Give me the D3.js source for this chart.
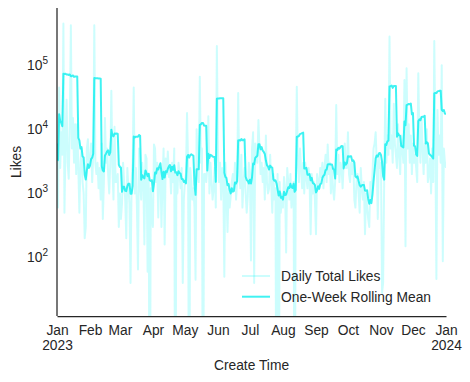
<!DOCTYPE html>
<html>
<head>
<meta charset="utf-8">
<script src="https://cdn.jsdelivr.net/npm/d3@7"></script>
<style>
  body { margin: 0; background: #fff; }
  text { font-family: "Liberation Sans", Arial, sans-serif; fill: #262626; }
</style>
</head>
<body>
<script>
// daily totals, 2023-01-01 .. 2024-01-01 (0 = no likes that day)
const startDay = Date.UTC(2023, 0, 1);
const dailyLikes = [
  6000, 600, 45000, 2500, 9000, 4000, 450000, 500, 6000, 29000, 3000, 1700, 12000, 420000,
  5000, 15000, 3000, 12000, 2000, 12000, 2500, 500, 3000, 5000, 1500, 1000, 200, 300,
  5000, 7000, 2500, 3000, 6000, 1500, 4000, 420000, 3000, 2000, 3000, 1200, 2500, 800,
  6000, 400, 1500, 15000, 3000, 5000, 2000, 1000, 3000, 40000, 2500, 800, 11000, 1500,
  1500, 2000, 300, 1000, 400, 700, 3000, 1500, 800, 200, 2500, 1200, 700, 40,
  1500, 3000, 45000, 1000, 2500, 600, 65, 5000, 1500, 800, 3000, 1500, 160, 4000,
  3500, 60, 2000, 0, 1200, 500, 300, 5800, 5000, 1500, 3000, 420, 2500, 2500,
  300, 1500, 5000, 160, 3500, 2000, 4500, 1800, 2500, 1000, 3000, 1500, 5000, 0,
  2000, 1000, 3000, 2000, 1200, 2500, 40, 800, 1500, 2000, 18000, 3000, 0, 2500,
  1500, 800, 1200, 600, 45, 10000, 2500, 1500, 66000, 3000, 5000, 0, 2000, 2000,
  1500, 2500, 16000, 1000, 3000, 1500, 800, 1200, 2500, 600, 200000, 5000, 1500, 3000,
  800, 2500, 1800, 50, 3000, 1000, 250, 1200, 600, 900, 1500, 2000, 1200, 3000,
  800, 1500, 37000, 2000, 1200, 4000, 600, 1500, 2500, 1000, 500, 900, 3000, 2000,
  90, 5000, 9000, 40, 6000, 4000, 3000, 14000, 5000, 2000, 3000, 1500, 2500, 800,
  8000, 1500, 1000, 1200, 4000, 1500, 500, 2000, 800, 1200, 0, 2000, 0, 1500,
  500, 1000, 600, 1800, 1200, 120, 2500, 1500, 800, 2000, 600, 1000, 1500, 0,
  2000, 46000, 3000, 1500, 5000, 2500, 1200, 3000, 1000, 3000, 1800, 1200, 2500, 1500,
  230, 2000, 1000, 1500, 800, 230, 2000, 1500, 1200, 2500, 1800, 3000, 1200, 2500,
  4000, 1500, 5800, 2000, 3000, 1000, 2500, 1200, 800, 1500, 24000, 2000, 4000, 1500,
  3000, 2500, 1200, 3000, 6000, 2500, 2500, 9000, 2000, 1500, 3000, 2000, 3000, 800,
  600, 1500, 2000, 1000, 500, 2500, 1200, 800, 1500, 230, 1000, 600, 400, 300,
  1500, 900, 2000, 5000, 6000, 9000, 3000, 400, 4000, 2500, 3000, 28, 40, 1500,
  30000, 3000, 8000, 4000, 280000, 5000, 8000, 3000, 25000, 6000, 4000, 2500, 12000, 4000,
  2000, 8000, 5000, 3000, 59000, 150, 90000, 5000, 12000, 3000, 8000, 2000, 6000, 3000,
  4000, 2500, 1500, 75000, 8000, 3000, 15000, 5000, 2000, 6000, 3000, 10000, 1500, 2000,
  3500, 1000, 5000, 1500, 240000, 6000, 46, 20000, 4000, 8000, 3000, 100000, 87, 5000,
  3000, 2500
];
const monthLabels = ['Jan', 'Feb', 'Mar', 'Apr', 'May', 'Jun', 'Jul', 'Aug', 'Sep', 'Oct', 'Nov', 'Dec'];
const yPowers = [2, 3, 4, 5];
const seriesNames = ['Daily Total Likes', 'One-Week Rolling Mean'];
const windowDays = 7;

const width = 470, height = 382;
const plot = {left: 57, right: 446, top: 8, bottom: 316};
const fontSize = 13.8;
const lightColor = 'rgba(0,245,245,0.2)';
const meanColor = 'rgba(0,238,238,0.75)';

const days = dailyLikes.map((v, i) => d3.utcDay.offset(new Date(startDay), i));

// trailing one-week mean (shorter window at the start)
const rolling = dailyLikes.map((v, i) => d3.mean(dailyLikes.slice(Math.max(0, i - windowDays + 1), i + 1)));

const svg = d3.select('body').append('svg')
  .attr('width', width).attr('height', height);

const x = d3.scaleUtc().domain([days[0], days[days.length - 1]]).range([plot.left, plot.right]);
const y = d3.scaleLog().domain([12.2, 7.83e5]).range([plot.bottom, plot.top]);
const yv = v => v > 0 ? y(v) : y(0.01);

svg.append('clipPath').attr('id', 'clip')
  .append('rect')
  .attr('x', x.range()[0]).attr('y', y.range()[1])
  .attr('width', x.range()[1] - x.range()[0])
  .attr('height', y.range()[0] - y.range()[1]);

const g = svg.append('g').attr('clip-path', 'url(#clip)');

const line = d3.line().x((d, i) => x(days[i])).y(d => yv(d));

g.append('path').datum(dailyLikes)
  .attr('d', line).attr('fill', 'none')
  .attr('stroke', lightColor).attr('stroke-width', 2).attr('stroke-linejoin', 'round');

g.append('path').datum(rolling)
  .attr('d', line).attr('fill', 'none')
  .attr('stroke', meanColor).attr('stroke-width', 2).attr('stroke-linejoin', 'round');

// x axis
const xAxis = d3.axisBottom(x)
  .ticks(d3.utcMonth.every(1))
  .tickSize(0).tickSizeOuter(0).tickPadding(9)
  .tickFormat(d => monthLabels[d.getUTCMonth()]);
const xg = svg.append('g').attr('transform', `translate(0,${plot.bottom})`).call(xAxis);
xg.select('.domain').attr('stroke', '#262626').attr('stroke-width', 1.25);
xg.selectAll('.tick text').attr('font-size', fontSize).attr('fill', '#262626');

// year under each January
xg.selectAll('.tick').filter(d => d.getUTCMonth() === 0)
  .append('text')
  .attr('y', 9).attr('dy', '1.8em')
  .attr('text-anchor', 'middle').attr('fill', '#262626')
  .attr('font-size', fontSize)
  .text(d => d.getUTCFullYear());

// y axis
svg.append('line')
  .attr('x1', plot.left).attr('x2', plot.left)
  .attr('y1', y.range()[0]).attr('y2', y.range()[1])
  .attr('stroke', '#262626').attr('stroke-width', 1.25);

const yt = svg.append('g').selectAll('text').data(yPowers).join('text')
  .attr('x', plot.left - 9).attr('y', p => y(Math.pow(10, p)))
  .attr('dy', '0.35em').attr('text-anchor', 'end').attr('font-size', fontSize);
yt.append('tspan').text('10');
yt.append('tspan').attr('dy', -6).attr('font-size', 10).text(p => p);

svg.append('text')
  .attr('transform', `translate(16,${(plot.top + plot.bottom) / 2}) rotate(-90)`)
  .attr('text-anchor', 'middle').attr('dy', '0.35em')
  .attr('font-size', fontSize).text('Likes');

svg.append('text')
  .attr('x', (plot.left + plot.right) / 2).attr('y', 370)
  .attr('text-anchor', 'middle').attr('font-size', fontSize).text('Create Time');

// legend
const legend = svg.append('g').attr('transform', 'translate(242,276)');
const items = legend.selectAll('g').data(seriesNames).join('g')
  .attr('transform', (d, i) => `translate(0,${i * 20.7})`);
items.append('line')
  .attr('x1', 0).attr('x2', 28)
  .attr('stroke', (d, i) => i === 0 ? lightColor : meanColor)
  .attr('stroke-width', 2);
items.append('text')
  .attr('x', 39).attr('dy', '0.35em')
  .attr('font-size', fontSize).text(d => d);
</script>
</body>
</html>
